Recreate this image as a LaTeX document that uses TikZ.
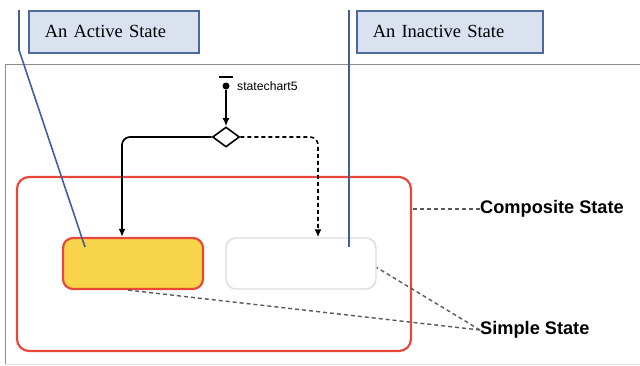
\documentclass[tikz,border=0pt]{standalone}
\usepackage{fontspec}
\usepackage{tikz}
\usetikzlibrary{shapes.geometric}
\usetikzlibrary{arrows.meta}
\newfontfamily\labelfont{Liberation Sans}
\newfontfamily\callfont{Liberation Serif}
\definecolor{stred}{HTML}{E8473B}
\definecolor{styellow}{HTML}{F7D44A}
\definecolor{callblue}{HTML}{4B6A9E}
\definecolor{callfill}{HTML}{DAE2F0}
\definecolor{linkblue}{HTML}{3F5F9F}
\definecolor{idlegray}{HTML}{DCDCDC}
\tikzset{
  compstate/.style={draw=stred, line width=2.2pt, rounded corners=12pt, minimum width=394pt, minimum height=174pt},
  actstate/.style={draw=stred, fill=styellow, line width=2.2pt, rounded corners=10pt, minimum width=140pt, minimum height=51pt},
  idlestate/.style={draw=idlegray, fill=white, line width=1.4pt, rounded corners=10pt, minimum width=150pt, minimum height=51pt},
  callbox/.style={draw=callblue, fill=callfill, line width=1.6pt, anchor=north west, minimum height=42pt, inner xsep=16pt, align=left, font=\callfont\fontsize{18.5}{20}\selectfont},
  calllink/.style={draw=linkblue, line width=1.6pt},
  notelabel/.style={anchor=west, inner sep=0pt, font=\labelfont\bfseries\fontsize{18.2}{20}\selectfont},
  noteline/.style={draw=black!65, dash pattern=on 4pt off 3pt, line width=1.4pt},
  trans/.style={draw=black, line width=1.7pt, rounded corners=8pt, -{Latex[length=8pt,width=7pt]}}
}
\begin{document}
\begin{tikzpicture}[x=1pt,y=-1pt]
        \useasboundingbox (0,0) rectangle (640,365);
        % frame
        \draw[black!45, line width=1pt] (5,365) -- (5,64) -- (640,64);
        \draw[black!12, line width=1pt] (5,364) -- (640,364);

        % states
        \node[compstate] (comp) at (214,264) {};
        \node[actstate] (act) at (133,263.5) {};
        \node[idlestate] (ina) at (301,263.5) {};

        % initial node and decision
        \node[fill=black, minimum width=14pt, minimum height=2pt, inner sep=0pt] (bar) at (226,77) {};
        \node[circle, fill=black, minimum size=7pt, inner sep=0pt] (init) at (226,86) {};
        \node[anchor=west, inner sep=0pt, font=\labelfont\fontsize{12.2}{14}\selectfont] (name) at (237,86) {statechart5};
        \node[diamond, draw, line width=1.6pt, fill=white, minimum width=27pt, minimum height=20pt, inner sep=0pt] (dec) at (226,137) {};

        % transitions
        \draw[trans] (init) -- (dec.north);
        \draw[trans] (dec.west) -| ([xshift=-11pt]act.north);
        \draw[trans, dash pattern=on 4pt off 3pt] (dec.east) -| ([xshift=17pt]ina.north);

        % callouts
        \node[callbox, text width=138pt] (cact) at (28,10) {An Active State};
        \node[callbox, text width=154pt] (cina) at (356,10) {An Inactive State};
        \coordinate (atop) at (19,10);
        \coordinate (abend) at (19,50);
        \coordinate (aend) at (85,247);
        \coordinate (itop) at (349,10);
        \coordinate (iend) at (349,247);
        \draw[calllink] (atop) -- (abend) -- (aend);
        \draw[calllink] (itop) -- (iend);

        % notes
        \node[notelabel] (cnote) at (480,209) {Composite State};
        \node[notelabel] (snote) at (480,330) {Simple State};
        \draw[noteline] (cnote.west) -- (cnote.west -| comp.east);
        \draw[noteline] (snote.west) -- ([yshift=-4pt]ina.east);
        \draw[noteline] (snote.west) -- ([xshift=-5pt]act.south);
    \end{tikzpicture}
\end{document}
